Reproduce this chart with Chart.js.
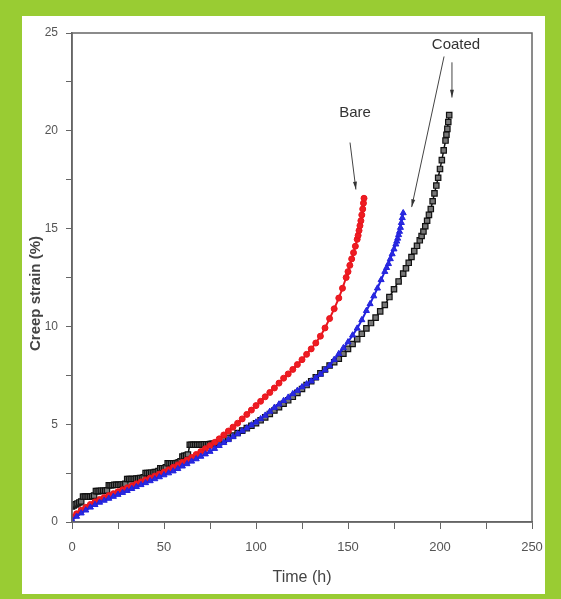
<!DOCTYPE html>
<html>
<head>
<meta charset="utf-8">
<script src="https://cdn.jsdelivr.net/npm/chart.js@4.4.1/dist/chart.umd.min.js"></script>
<style>
  body { margin: 0; background: #99cc33; width: 561px; height: 599px; overflow: hidden; }
  #panel { position: absolute; left: 22px; top: 16px; width: 523px; height: 578px; background: #fff; }
</style>
</head>
<body>
<div id="panel"><canvas id="creep" width="523" height="578"></canvas></div>
<script>
// bare specimen (red circles)
var bareTime   = [0, 2.5, 5, 7.5, 10, 12.5, 15, 17.5, 20, 22.5, 25, 27.5, 30, 32.5, 35, 37.5, 40, 42.5, 45, 47.5, 50, 52.5, 55, 57.5, 60, 62.5, 65, 67.5, 70, 72.5, 75, 77.5, 80, 82.5, 85, 87.5, 90, 92.5, 95, 97.5, 100, 102.5, 105, 107.5, 110, 112.5, 115, 117.5, 120, 122.5, 125, 127.5, 130, 132.5, 135, 137.5, 140, 142.5, 145, 147, 149, 150, 151, 152, 153, 154, 155, 155.5, 156, 156.5, 157, 157.5, 158, 158.4, 158.7];
var bareStrain = [0.25, 0.42, 0.6, 0.75, 0.9, 1.03, 1.15, 1.25, 1.35, 1.45, 1.55, 1.65, 1.75, 1.85, 1.95, 2.05, 2.15, 2.25, 2.35, 2.45, 2.55, 2.67, 2.8, 2.92, 3.05, 3.17, 3.3, 3.45, 3.6, 3.75, 3.9, 4.07, 4.25, 4.45, 4.65, 4.85, 5.05, 5.27, 5.5, 5.72, 5.95, 6.17, 6.4, 6.62, 6.85, 7.1, 7.35, 7.57, 7.8, 8.05, 8.3, 8.57, 8.85, 9.15, 9.5, 9.92, 10.4, 10.9, 11.45, 11.95, 12.5, 12.8, 13.12, 13.45, 13.77, 14.1, 14.45, 14.65, 14.9, 15.15, 15.4, 15.7, 16.0, 16.3, 16.55];

// coated specimen, blue triangles
var blueTime   = [0, 2.5, 5, 7.5, 10, 12.5, 15, 17.5, 20, 22.5, 25, 27.5, 30, 32.5, 35, 37.5, 40, 42.5, 45, 47.5, 50, 52.5, 55, 57.5, 60, 62.5, 65, 67.5, 70, 72.5, 75, 77.5, 80, 82.5, 85, 87.5, 90, 92.5, 95, 97.5, 100, 102.5, 105, 107.5, 110, 112.5, 115, 117.5, 120, 122.5, 125, 127.5, 130, 132.5, 135, 137.5, 140, 142.5, 145, 147.5, 150, 152.5, 155, 157.5, 160, 162, 164, 166, 168, 170, 171, 172, 173, 174, 175, 176, 176.5, 177, 177.5, 178, 178.5, 179, 179.5, 180];
var blueStrain = [0.1, 0.28, 0.45, 0.6, 0.75, 0.88, 1.0, 1.1, 1.2, 1.3, 1.4, 1.5, 1.6, 1.7, 1.8, 1.9, 2.0, 2.1, 2.2, 2.3, 2.4, 2.5, 2.6, 2.72, 2.85, 2.97, 3.1, 3.22, 3.35, 3.47, 3.6, 3.75, 3.9, 4.05, 4.2, 4.35, 4.5, 4.65, 4.8, 4.95, 5.1, 5.27, 5.45, 5.65, 5.85, 6.02, 6.2, 6.37, 6.55, 6.72, 6.9, 7.05, 7.2, 7.37, 7.55, 7.77, 8.0, 8.3, 8.6, 8.9, 9.2, 9.55, 9.9, 10.33, 10.8, 11.15, 11.55, 11.95, 12.38, 12.8, 13.0, 13.2, 13.45, 13.7, 13.95, 14.2, 14.35, 14.5, 14.68, 14.85, 15.05, 15.3, 15.55, 15.8];

// coated specimen, black squares (stepped at the start)
var blackTime   = [0, 1, 2, 3, 4, 5, 6, 7, 8, 9, 10, 11, 12, 13, 14, 15, 16, 17, 18, 19, 20, 21, 22, 23, 24, 25, 26, 27, 28, 29, 30, 31, 32, 33, 34, 35, 36, 37, 38, 39, 40, 41, 42, 43, 44, 45, 46, 47, 48, 49, 50, 51, 52, 53, 54, 55, 56, 57, 58, 59, 60, 61, 62, 63, 64, 65, 66, 67, 68, 69, 70, 71, 72, 73, 74, 75, 76, 77, 78, 79,
                   80, 82.5, 85, 87.5, 90, 92.5, 95, 97.5, 100, 102.5, 105, 107.5, 110, 112.5, 115, 117.5, 120, 122.5, 125, 127.5, 130, 132.5, 135, 137.5, 140, 142.5, 145, 147.5, 150, 152.5, 155, 157.5, 160, 162.5, 165, 167.5, 170, 172.5, 175, 177.5, 180, 181.5, 183, 184.5, 186, 187.5, 189, 190, 191, 192, 193, 194, 195, 196, 197, 198, 199, 200, 201, 202, 203, 203.5, 204, 204.5, 205];
var blackStrain = [0.8, 0.85, 0.9, 0.95, 1.0, 1.05, 1.3, 1.3, 1.3, 1.3, 1.3, 1.32, 1.35, 1.58, 1.58, 1.58, 1.6, 1.6, 1.6, 1.62, 1.88, 1.88, 1.88, 1.9, 1.9, 1.9, 1.9, 1.92, 1.92, 1.95, 2.2, 2.2, 2.2, 2.2, 2.2, 2.22, 2.22, 2.25, 2.25, 2.28, 2.5, 2.5, 2.5, 2.52, 2.52, 2.55, 2.55, 2.6, 2.75, 2.75, 2.75, 2.8, 3.0, 3.0, 3.0, 3.0, 3.0, 3.02, 3.05, 3.1, 3.35, 3.38, 3.4, 3.45, 3.95, 3.95, 3.95, 3.95, 3.95, 3.95, 3.95, 3.96, 3.97, 3.97, 3.97, 3.98, 4.0, 4.0, 4.02, 4.05,
                   4.08, 4.2, 4.3, 4.42, 4.55, 4.67, 4.8, 4.92, 5.05, 5.2, 5.35, 5.52, 5.7, 5.87, 6.05, 6.22, 6.4, 6.6, 6.8, 7.0, 7.2, 7.4, 7.6, 7.8, 8.0, 8.17, 8.35, 8.6, 8.85, 9.1, 9.35, 9.62, 9.9, 10.17, 10.45, 10.77, 11.1, 11.5, 11.9, 12.3, 12.7, 12.97, 13.25, 13.55, 13.85, 14.12, 14.4, 14.62, 14.85, 15.12, 15.4, 15.7, 16.0, 16.4, 16.8, 17.2, 17.6, 18.05, 18.5, 19.0, 19.5, 19.8, 20.1, 20.45, 20.8];

// labels with arrows: [text, textX, textY, arrows [[x1,y1,x2,y2], ...]] in data units
var notes = [
  ["Bare",   153.8, 20.9, [[151.1, 19.4, 154.3, 17.0]]],
  ["Coated", 208.7, 24.4, [[202.2, 23.8, 184.6, 16.1], [206.5, 23.5, 206.5, 21.7]]]
];

function pts(xs, ys) {
  var out = [];
  for (var i = 0; i < xs.length; i++) out.push({x: xs[i], y: ys[i]});
  return out;
}

var narrow = "'Liberation Sans Narrow', 'Arial Narrow', 'Liberation Sans', Arial, sans-serif";

//frame, y title, arrows
var extras = {
  id: 'extras',
  afterDatasetsDraw: function(chart) {
    var c = chart.ctx, a = chart.chartArea;
    var sx = chart.scales.x, sy = chart.scales.y;
    c.save();
    c.strokeStyle = '#666';
    c.lineWidth = 1.5;
    c.strokeRect(a.left, a.top, a.right - a.left, a.bottom - a.top);

    // y axis title sits a bit below the middle in the original
    c.save();
    c.translate(14, (a.top + a.bottom) / 2 + 16);
    c.rotate(-Math.PI / 2);
    c.fillStyle = '#444';
    c.font = "bold 15px 'Liberation Sans', Arial, sans-serif";
    c.textAlign = 'center';
    c.textBaseline = 'middle';
    c.fillText('Creep strain (%)', 0, 0);
    c.restore();

    c.fillStyle = '#333';
    c.strokeStyle = '#444';
    c.lineWidth = 1;
    c.font = '15px ' + narrow;
    c.textAlign = 'center';
    c.textBaseline = 'middle';
    notes.forEach(function(n) {
      c.fillText(n[0], sx.getPixelForValue(n[1]), sy.getPixelForValue(n[2]));
      n[3].forEach(function(ar) {
        var x1 = sx.getPixelForValue(ar[0]), y1 = sy.getPixelForValue(ar[1]);
        var x2 = sx.getPixelForValue(ar[2]), y2 = sy.getPixelForValue(ar[3]);
        var ang = Math.atan2(y2 - y1, x2 - x1);
        c.beginPath();
        c.moveTo(x1, y1);
        c.lineTo(x2, y2);
        c.stroke();
        c.beginPath();
        c.moveTo(x2, y2);
        c.lineTo(x2 - 8 * Math.cos(ang - 0.25), y2 - 8 * Math.sin(ang - 0.25));
        c.lineTo(x2 - 8 * Math.cos(ang + 0.25), y2 - 8 * Math.sin(ang + 0.25));
        c.closePath();
        c.fill();
      });
    });
    c.restore();
  }
};

new Chart(document.getElementById('creep'), {
  type: 'scatter',
  data: {
    datasets: [
      {
        label: 'Coated (blue)',
        data: pts(blueTime, blueStrain),
        showLine: true,
        borderColor: '#2222dd',
        borderWidth: 2,
        backgroundColor: '#2a2ae0',
        pointStyle: 'triangle',
        pointRadius: 3.5,
        pointBorderWidth: 1,
        order: 0
      },
      {
        label: 'Bare',
        data: pts(bareTime, bareStrain),
        showLine: true,
        borderColor: '#e8141c',
        borderWidth: 2,
        backgroundColor: '#ee1c22',
        pointStyle: 'circle',
        pointRadius: 3,
        pointBorderWidth: 1,
        order: 1
      },
      {
        label: 'Coated',
        data: pts(blackTime, blackStrain),
        showLine: true,
        borderColor: '#111',
        borderWidth: 1.5,
        backgroundColor: '#777',
        pointStyle: 'rect',
        pointRadius: 3.8,
        pointBorderWidth: 1.2,
        pointBorderColor: '#111',
        order: 2
      }
    ]
  },
  options: {
    responsive: false,
    animation: false,
    devicePixelRatio: 1,
    layout: { padding: { top: 17, right: 13, left: 0, bottom: 0 } },
    plugins: { legend: { display: false }, tooltip: { enabled: false } },
    scales: {
      x: {
        type: 'linear',
        min: 0, max: 250,
        afterFit: function(s) { s.height = 72; s.paddingLeft = 0; s.paddingRight = 0; },
        border: { color: '#666', width: 1.5 },
        grid: { drawOnChartArea: false, tickLength: 7, tickColor: '#666' },
        ticks: {
          stepSize: 25, padding: 11, maxRotation: 0, autoSkip: false,
          color: '#555', font: { size: 13, family: narrow },
          callback: function(v) { return v % 50 === 0 ? v : ''; }
        },
        title: { display: true, text: 'Time (h)', color: '#444', font: { size: 16, family: narrow }, padding: { top: 2, bottom: 7 } }
      },
      y: {
        type: 'linear',
        min: 0, max: 25,
        afterFit: function(s) { s.width = 50; s.paddingTop = 0; s.paddingBottom = 0; },
        border: { color: '#666', width: 1.5 },
        grid: { drawOnChartArea: false, tickLength: 6, tickColor: '#666' },
        ticks: {
          stepSize: 2.5, padding: 8, autoSkip: false,
          color: '#555', font: { size: 12, family: narrow },
          callback: function(v) { return v % 5 === 0 ? v : ''; }
        },
        title: { display: false }
      }
    }
  },
  plugins: [extras]
});
</script>
</body>
</html>
